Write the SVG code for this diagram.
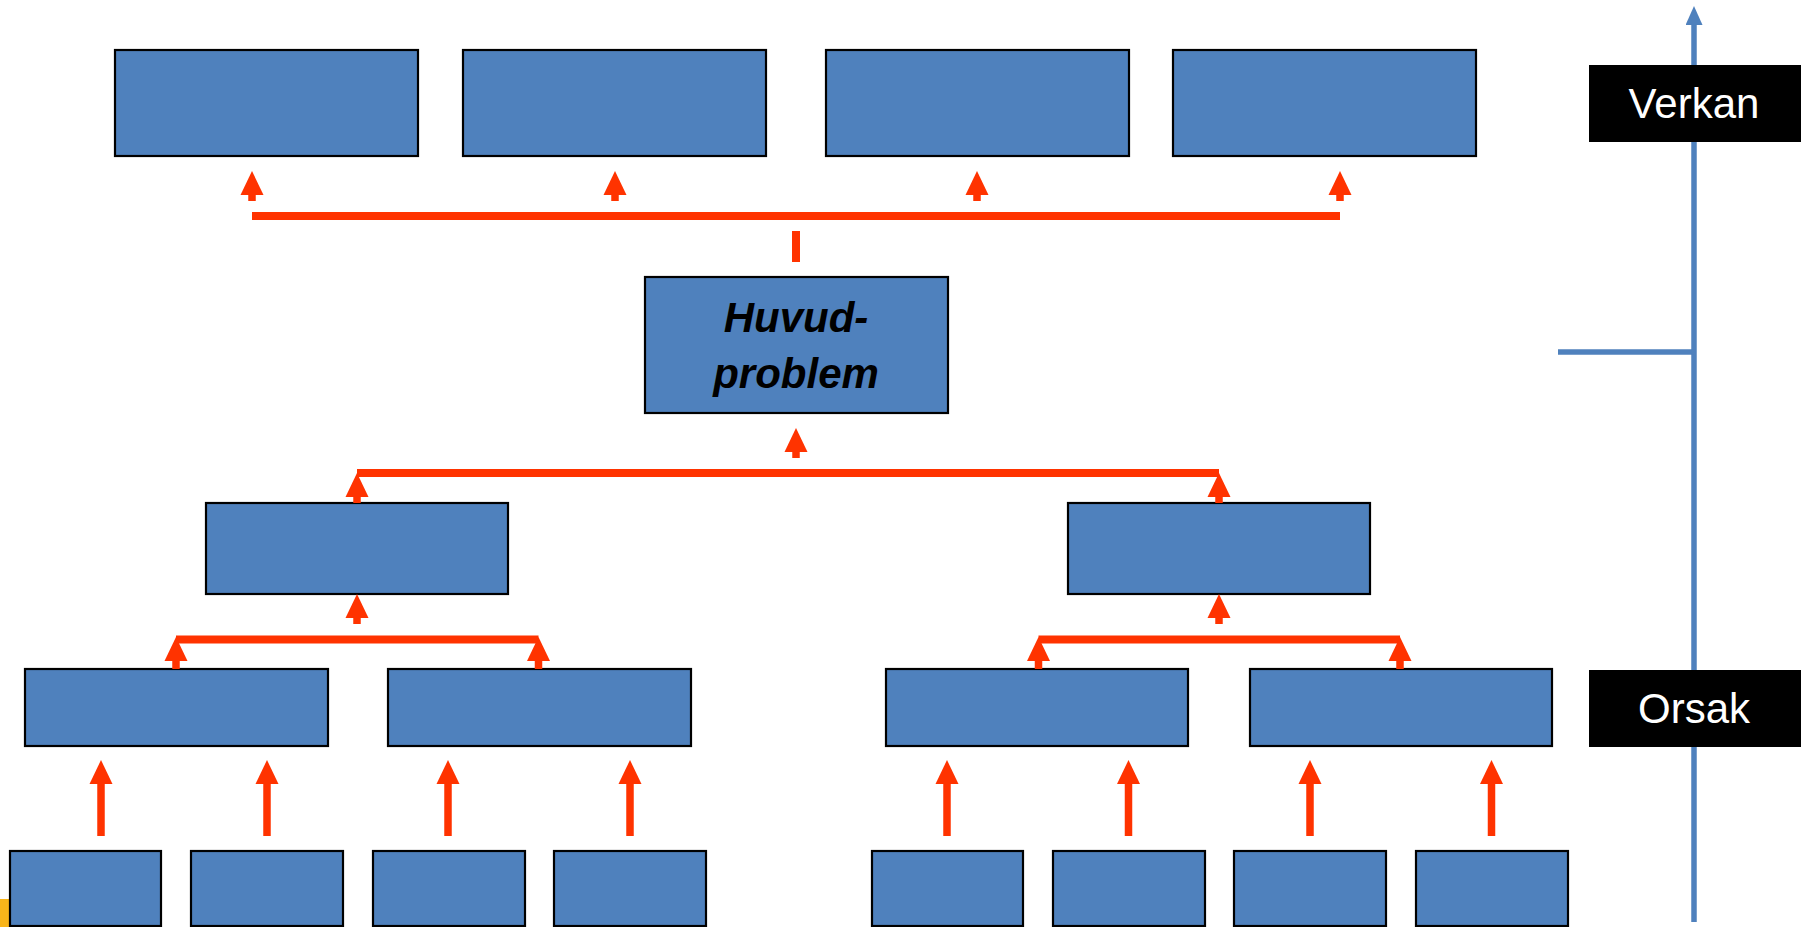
<svg xmlns="http://www.w3.org/2000/svg" width="1805" height="927" viewBox="0 0 1805 927">
<style>
.box{fill:#4F81BD;stroke:#000;stroke-width:2.2}
.bar{stroke:#FF3300;stroke-width:8;fill:none}
.arr{stroke:#FF3300;stroke-width:7.5;fill:none;marker-end:url(#ah)}
.axis{stroke:#4F81BD;stroke-width:5.5;fill:none}
.lbl{fill:#000}
.lt{font-family:"Liberation Sans",Arial,sans-serif;font-size:42px;fill:#fff;text-anchor:middle}
.main{font-family:"Liberation Sans",Arial,sans-serif;font-size:42px;font-weight:bold;font-style:italic;fill:#000;text-anchor:middle}
</style>
<defs>
<marker id="ah" markerUnits="userSpaceOnUse" markerWidth="24" markerHeight="24" refX="0" refY="11.5" orient="auto" viewBox="0 0 24 23">
<path d="M0,0 L24,11.5 L0,23 z" fill="#FF3300"/>
</marker>
<marker id="bh" markerUnits="userSpaceOnUse" markerWidth="19" markerHeight="17" refX="0" refY="8.5" orient="auto" viewBox="0 0 19 17">
<path d="M0,0 L19,8.5 L0,17 z" fill="#4F81BD"/>
</marker>
</defs>
<rect x="0" y="899" width="9" height="28" fill="#F9B51A"/>
<g id="axis">
<line class="axis" x1="1694" y1="922" x2="1694" y2="25" marker-end="url(#bh)"/>
<line class="axis" x1="1558" y1="352" x2="1694" y2="352"/>
</g>
<g id="label-verkan"><rect class="lbl" x="1589" y="65" width="212" height="77"/><text class="lt" x="1694" y="118">Verkan</text></g>
<g id="label-orsak"><rect class="lbl" x="1589" y="670" width="212" height="77"/><text class="lt" x="1694" y="723">Orsak</text></g>
<g id="top-1"><rect class="box" x="115" y="50" width="303" height="106"/></g>
<g id="top-2"><rect class="box" x="463" y="50" width="303" height="106"/></g>
<g id="top-3"><rect class="box" x="826" y="50" width="303" height="106"/></g>
<g id="top-4"><rect class="box" x="1173" y="50" width="303" height="106"/></g>
<g id="huvudproblem"><rect class="box" x="645" y="277" width="303" height="136"/>
<text class="main" x="796" y="332">Huvud-</text><text class="main" x="796" y="388">problem</text></g>
<g id="mid-left"><rect class="box" x="206" y="503" width="302" height="91"/></g>
<g id="mid-right"><rect class="box" x="1068" y="503" width="302" height="91"/></g>
<g id="l3-a"><rect class="box" x="25" y="669" width="303" height="77"/></g>
<g id="l3-b"><rect class="box" x="388" y="669" width="303" height="77"/></g>
<g id="l3-c"><rect class="box" x="886" y="669" width="302" height="77"/></g>
<g id="l3-d"><rect class="box" x="1250" y="669" width="302" height="77"/></g>
<g id="b1"><rect class="box" x="10" y="851" width="151" height="75"/></g>
<g id="b2"><rect class="box" x="191" y="851" width="152" height="75"/></g>
<g id="b3"><rect class="box" x="373" y="851" width="152" height="75"/></g>
<g id="b4"><rect class="box" x="554" y="851" width="152" height="75"/></g>
<g id="b5"><rect class="box" x="872" y="851" width="151" height="75"/></g>
<g id="b6"><rect class="box" x="1053" y="851" width="152" height="75"/></g>
<g id="b7"><rect class="box" x="1234" y="851" width="152" height="75"/></g>
<g id="b8"><rect class="box" x="1416" y="851" width="152" height="75"/></g>
<g id="connectors">
<line class="bar" x1="252" y1="216" x2="1340" y2="216"/>
<line class="bar" x1="796" y1="231" x2="796" y2="262"/>
<line class="arr" x1="252" y1="201" x2="252" y2="195"/>
<line class="arr" x1="615" y1="201" x2="615" y2="195"/>
<line class="arr" x1="977" y1="201" x2="977" y2="195"/>
<line class="arr" x1="1340" y1="201" x2="1340" y2="195"/>
<line class="arr" x1="796" y1="458" x2="796" y2="452"/>
<line class="bar" x1="357" y1="473" x2="1219" y2="473"/>
<line class="arr" x1="357" y1="503" x2="357" y2="497"/>
<line class="arr" x1="1219" y1="503" x2="1219" y2="497"/>
<line class="arr" x1="357" y1="624" x2="357" y2="618"/>
<line class="arr" x1="1219" y1="624" x2="1219" y2="618"/>
<line class="bar" x1="176" y1="639.5" x2="538.5" y2="639.5"/>
<line class="bar" x1="1038.5" y1="639.5" x2="1400" y2="639.5"/>
<line class="arr" x1="176" y1="669" x2="176" y2="661"/>
<line class="arr" x1="538.5" y1="669" x2="538.5" y2="661"/>
<line class="arr" x1="1038.5" y1="669" x2="1038.5" y2="661"/>
<line class="arr" x1="1400" y1="669" x2="1400" y2="661"/>
<line class="arr" x1="101" y1="836" x2="101" y2="784"/>
<line class="arr" x1="267" y1="836" x2="267" y2="784"/>
<line class="arr" x1="448" y1="836" x2="448" y2="784"/>
<line class="arr" x1="630" y1="836" x2="630" y2="784"/>
<line class="arr" x1="947" y1="836" x2="947" y2="784"/>
<line class="arr" x1="1128.5" y1="836" x2="1128.5" y2="784"/>
<line class="arr" x1="1310" y1="836" x2="1310" y2="784"/>
<line class="arr" x1="1491.5" y1="836" x2="1491.5" y2="784"/>
</g>
</svg>
